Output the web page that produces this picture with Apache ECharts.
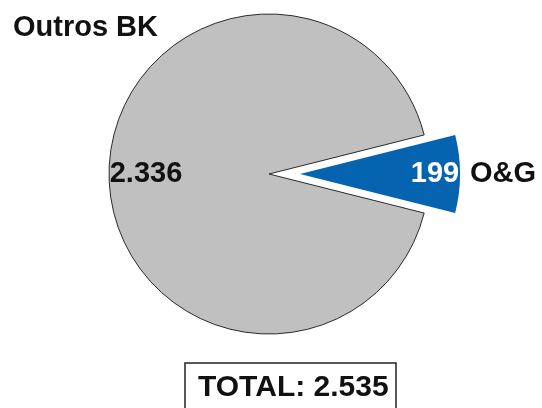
<!DOCTYPE html>
<html>
<head>
<meta charset="utf-8">
<script src="https://cdn.jsdelivr.net/npm/echarts@6/dist/echarts.min.js"></script>
<style>
  html, body { margin: 0; padding: 0; background: #ffffff; }
  #chart { width: 542px; height: 408px; }
</style>
</head>
<body>
<div id="chart"></div>
<script>
// Slices, in drawing order (clockwise from the start angle)
const categories = ['O&G', 'Outros BK'];
const values = [199, 2336];
const sliceColors = ['#0563b0', '#c0c0c0'];
const valueLabelColors = ['#ffffff', '#111111'];
const explodedCategory = 'O&G';
const totalCaption = 'TOTAL';

const total = values.reduce((a, b) => a + b, 0);
// Portuguese-style thousands separator
function fmt(n) {
  return String(n).replace(/\B(?=(\d{3})+(?!\d))/g, '.');
}

const FONT = "'Liberation Sans', Arial, Helvetica, sans-serif";
const CENTER = [269, 174];
const RADIUS = 160;
const OFFSET = 31;
// centre the exploded slice on the horizontal axis
const START_ANGLE = (values[0] / total) * 360 / 2;

const chart = echarts.init(document.getElementById('chart'), null, { renderer: 'canvas' });

const sliceData = categories.map((name, i) => ({
  name: name,
  value: values[i],
  selected: name === explodedCategory,
  itemStyle: {
    color: sliceColors[i],
    borderColor: name === explodedCategory ? sliceColors[i] : '#2a2a2a',
    borderWidth: name === explodedCategory ? 0 : 1
  },
  label: { color: valueLabelColors[i] }
}));

const nameData = categories.map((name, i) => ({
  name: name,
  value: values[i],
  selected: name === explodedCategory
}));

chart.setOption({
  animation: false,
  backgroundColor: '#ffffff',
  title: {
    text: totalCaption + ': ' + fmt(total),
    left: 185,
    top: 363,
    padding: [10, 8, 30, 13],
    borderColor: '#222222',
    borderWidth: 1.5,
    textStyle: {
      fontFamily: FONT,
      fontSize: 30,
      fontWeight: 'bold',
      color: '#111111'
    }
  },
  series: [
    {
      type: 'pie',
      center: CENTER,
      radius: RADIUS,
      startAngle: START_ANGLE,
      clockwise: true,
      selectedMode: 'single',
      selectedOffset: OFFSET,
      avoidLabelOverlap: false,
      silent: true,
      data: sliceData,
      label: {
        show: true,
        position: 'inside',
        formatter: (p) => fmt(p.value),
        fontFamily: FONT,
        fontSize: 29,
        fontWeight: 'bold'
      },
      labelLine: { show: false },
      labelLayout: (p) => (p.dataIndex === 0 ? { dx: 52 } : { dx: -40 })
    },
    {
      type: 'pie',
      center: CENTER,
      radius: RADIUS,
      startAngle: START_ANGLE,
      clockwise: true,
      selectedMode: 'single',
      selectedOffset: OFFSET,
      avoidLabelOverlap: false,
      silent: true,
      z: 3,
      itemStyle: { color: 'rgba(0,0,0,0)', borderWidth: 0 },
      data: nameData,
      label: {
        show: true,
        position: 'outside',
        formatter: '{b}',
        fontFamily: FONT,
        fontSize: 29,
        fontWeight: 'bold',
        color: '#111111',
        distanceToLabelLine: 10
      },
      labelLine: { show: false, length: 0, length2: 0 },
      labelLayout: (p) => (p.dataIndex === 1
        ? { x: 13, y: 28, align: 'left', verticalAlign: 'middle' }
        : {})
    }
  ]
});
</script>
</body>
</html>
